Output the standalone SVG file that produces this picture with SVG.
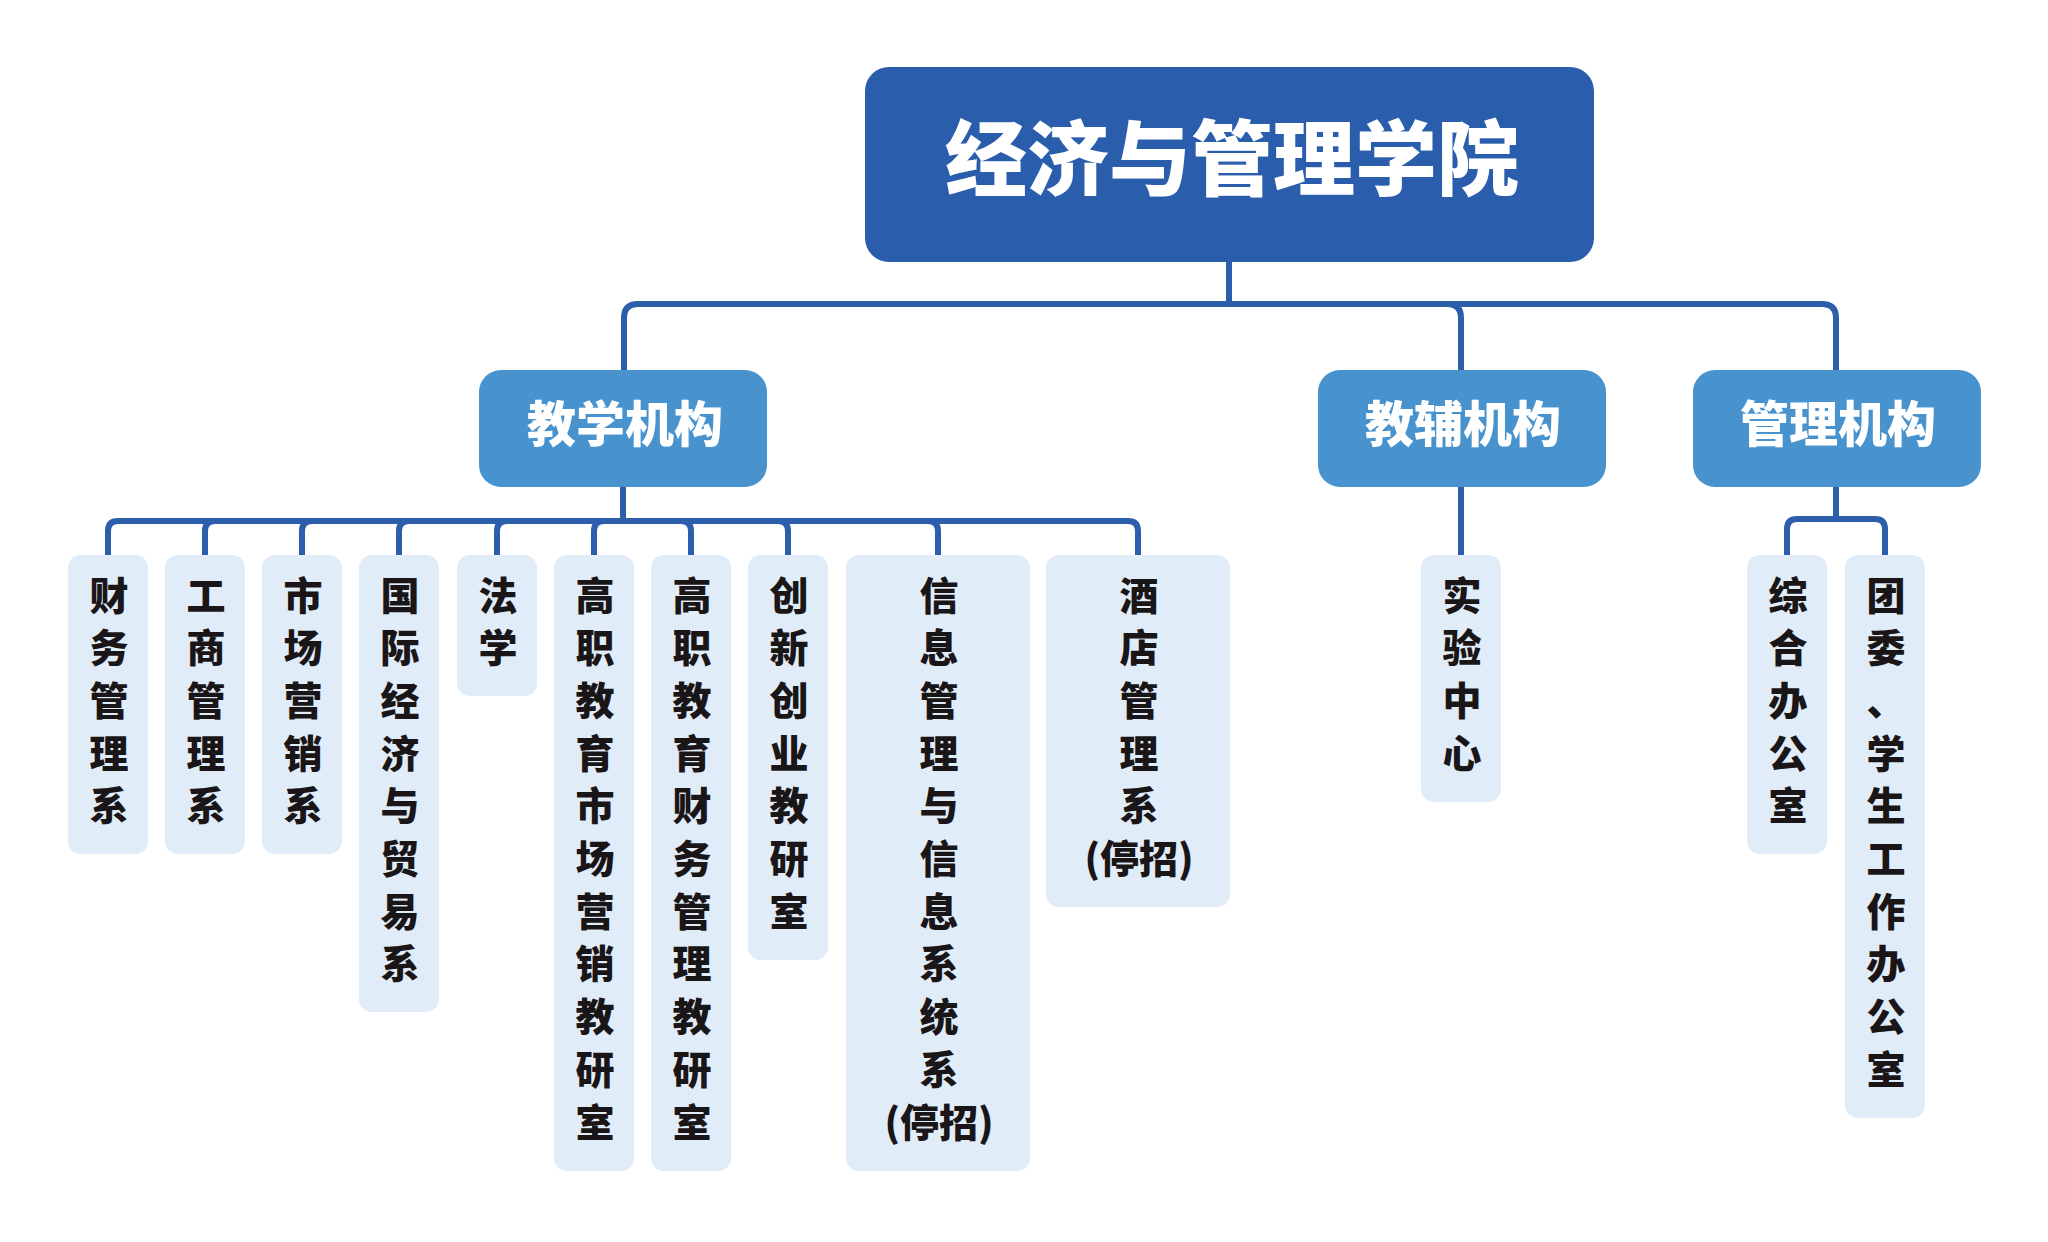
<svg xmlns="http://www.w3.org/2000/svg" width="2048" height="1242" viewBox="0 0 2048 1242">
<style>
.conn{fill:none;stroke:#2C5EAB;stroke-width:6;stroke-linejoin:round}
.root{fill:#2A5EAD}
.mid{fill:#4893CE}
.leaf{fill:#E0ECF7}
.tw{font-family:"Noto Sans CJK SC","Noto Sans",sans-serif;font-weight:900;fill:#FFFFFF;text-anchor:middle}
.tl{font-family:"Noto Sans CJK SC","Noto Sans",sans-serif;font-weight:900;fill:#1A1517;text-anchor:middle;font-size:39px}
</style>
<rect width="2048" height="1242" fill="#FFFFFF"/>
<g id="connectors">
<path class="conn" d="M1229,262 V304 H638 Q624,304 624,318 V370"/>
<path class="conn" d="M1229,262 V304 H1447 Q1461,304 1461,318 V370"/>
<path class="conn" d="M1229,262 V304 H1822 Q1836,304 1836,318 V370"/>
<path class="conn" d="M623,487 V521 H118 Q108,521 108,531 V555"/>
<path class="conn" d="M623,487 V521 H215 Q205,521 205,531 V555"/>
<path class="conn" d="M623,487 V521 H312 Q302,521 302,531 V555"/>
<path class="conn" d="M623,487 V521 H409 Q399,521 399,531 V555"/>
<path class="conn" d="M623,487 V521 H507 Q497,521 497,531 V555"/>
<path class="conn" d="M623,487 V521 H604 Q594,521 594,531 V555"/>
<path class="conn" d="M623,487 V521 H681 Q691,521 691,531 V555"/>
<path class="conn" d="M623,487 V521 H778 Q788,521 788,531 V555"/>
<path class="conn" d="M623,487 V521 H928 Q938,521 938,531 V555"/>
<path class="conn" d="M623,487 V521 H1128 Q1138,521 1138,531 V555"/>
<path class="conn" d="M1461,487 V555"/>
<path class="conn" d="M1836,487 V519 H1797 Q1787,519 1787,529 V555"/>
<path class="conn" d="M1836,487 V519 H1875 Q1885,519 1885,529 V555"/>
</g>
<g id="root">
<rect class="root" x="865" y="67" width="729" height="195" rx="24"/>
<text class="tw" x="1232" y="189" font-size="82">经济与管理学院</text>
</g>
<g id="teaching">
<rect class="mid" x="479" y="370" width="288" height="117" rx="22"/>
<text class="tw" x="625" y="442" font-size="49">教学机构</text>
</g>
<g id="support">
<rect class="mid" x="1318" y="370" width="288" height="117" rx="22"/>
<text class="tw" x="1463" y="442" font-size="49">教辅机构</text>
</g>
<g id="admin">
<rect class="mid" x="1693" y="370" width="288" height="117" rx="22"/>
<text class="tw" x="1838" y="442" font-size="49">管理机构</text>
</g>
<g id="leaf1">
<rect class="leaf" x="68" y="555" width="80" height="299" rx="13"/>
<text class="tl" x="109" y="609.5"><tspan x="109">财</tspan><tspan x="109" dy="52.7">务</tspan><tspan x="109" dy="52.7">管</tspan><tspan x="109" dy="52.7">理</tspan><tspan x="109" dy="52.7">系</tspan></text>
</g>
<g id="leaf2">
<rect class="leaf" x="165" y="555" width="80" height="299" rx="13"/>
<text class="tl" x="206" y="609.5"><tspan x="206">工</tspan><tspan x="206" dy="52.7">商</tspan><tspan x="206" dy="52.7">管</tspan><tspan x="206" dy="52.7">理</tspan><tspan x="206" dy="52.7">系</tspan></text>
</g>
<g id="leaf3">
<rect class="leaf" x="262" y="555" width="80" height="299" rx="13"/>
<text class="tl" x="303" y="609.5"><tspan x="303">市</tspan><tspan x="303" dy="52.7">场</tspan><tspan x="303" dy="52.7">营</tspan><tspan x="303" dy="52.7">销</tspan><tspan x="303" dy="52.7">系</tspan></text>
</g>
<g id="leaf4">
<rect class="leaf" x="359" y="555" width="80" height="457" rx="13"/>
<text class="tl" x="400" y="609.5"><tspan x="400">国</tspan><tspan x="400" dy="52.7">际</tspan><tspan x="400" dy="52.7">经</tspan><tspan x="400" dy="52.7">济</tspan><tspan x="400" dy="52.7">与</tspan><tspan x="400" dy="52.7">贸</tspan><tspan x="400" dy="52.7">易</tspan><tspan x="400" dy="52.7">系</tspan></text>
</g>
<g id="leaf5">
<rect class="leaf" x="457" y="555" width="80" height="141" rx="13"/>
<text class="tl" x="498" y="609.5"><tspan x="498">法</tspan><tspan x="498" dy="52.7">学</tspan></text>
</g>
<g id="leaf6">
<rect class="leaf" x="554" y="555" width="80" height="616" rx="13"/>
<text class="tl" x="595" y="609.5"><tspan x="595">高</tspan><tspan x="595" dy="52.7">职</tspan><tspan x="595" dy="52.7">教</tspan><tspan x="595" dy="52.7">育</tspan><tspan x="595" dy="52.7">市</tspan><tspan x="595" dy="52.7">场</tspan><tspan x="595" dy="52.7">营</tspan><tspan x="595" dy="52.7">销</tspan><tspan x="595" dy="52.7">教</tspan><tspan x="595" dy="52.7">研</tspan><tspan x="595" dy="52.7">室</tspan></text>
</g>
<g id="leaf7">
<rect class="leaf" x="651" y="555" width="80" height="616" rx="13"/>
<text class="tl" x="692" y="609.5"><tspan x="692">高</tspan><tspan x="692" dy="52.7">职</tspan><tspan x="692" dy="52.7">教</tspan><tspan x="692" dy="52.7">育</tspan><tspan x="692" dy="52.7">财</tspan><tspan x="692" dy="52.7">务</tspan><tspan x="692" dy="52.7">管</tspan><tspan x="692" dy="52.7">理</tspan><tspan x="692" dy="52.7">教</tspan><tspan x="692" dy="52.7">研</tspan><tspan x="692" dy="52.7">室</tspan></text>
</g>
<g id="leaf8">
<rect class="leaf" x="748" y="555" width="80" height="405" rx="13"/>
<text class="tl" x="789" y="609.5"><tspan x="789">创</tspan><tspan x="789" dy="52.7">新</tspan><tspan x="789" dy="52.7">创</tspan><tspan x="789" dy="52.7">业</tspan><tspan x="789" dy="52.7">教</tspan><tspan x="789" dy="52.7">研</tspan><tspan x="789" dy="52.7">室</tspan></text>
</g>
<g id="leaf9">
<rect class="leaf" x="846" y="555" width="184" height="616" rx="13"/>
<text class="tl" x="939" y="609.5"><tspan x="939">信</tspan><tspan x="939" dy="52.7">息</tspan><tspan x="939" dy="52.7">管</tspan><tspan x="939" dy="52.7">理</tspan><tspan x="939" dy="52.7">与</tspan><tspan x="939" dy="52.7">信</tspan><tspan x="939" dy="52.7">息</tspan><tspan x="939" dy="52.7">系</tspan><tspan x="939" dy="52.7">统</tspan><tspan x="939" dy="52.7">系</tspan><tspan x="939" dy="52.7">(停招)</tspan></text>
</g>
<g id="leaf10">
<rect class="leaf" x="1046" y="555" width="184" height="352" rx="13"/>
<text class="tl" x="1139" y="609.5"><tspan x="1139">酒</tspan><tspan x="1139" dy="52.7">店</tspan><tspan x="1139" dy="52.7">管</tspan><tspan x="1139" dy="52.7">理</tspan><tspan x="1139" dy="52.7">系</tspan><tspan x="1139" dy="52.7">(停招)</tspan></text>
</g>
<g id="leaf11">
<rect class="leaf" x="1421" y="555" width="80" height="247" rx="13"/>
<text class="tl" x="1462" y="609.5"><tspan x="1462">实</tspan><tspan x="1462" dy="52.7">验</tspan><tspan x="1462" dy="52.7">中</tspan><tspan x="1462" dy="52.7">心</tspan></text>
</g>
<g id="leaf12">
<rect class="leaf" x="1747" y="555" width="80" height="299" rx="13"/>
<text class="tl" x="1788" y="609.5"><tspan x="1788">综</tspan><tspan x="1788" dy="52.7">合</tspan><tspan x="1788" dy="52.7">办</tspan><tspan x="1788" dy="52.7">公</tspan><tspan x="1788" dy="52.7">室</tspan></text>
</g>
<g id="leaf13">
<rect class="leaf" x="1845" y="555" width="80" height="563" rx="13"/>
<text class="tl" x="1886" y="609.5"><tspan x="1886">团</tspan><tspan x="1886" dy="52.7">委</tspan><tspan x="1886" dy="52.7">、</tspan><tspan x="1886" dy="52.7">学</tspan><tspan x="1886" dy="52.7">生</tspan><tspan x="1886" dy="52.7">工</tspan><tspan x="1886" dy="52.7">作</tspan><tspan x="1886" dy="52.7">办</tspan><tspan x="1886" dy="52.7">公</tspan><tspan x="1886" dy="52.7">室</tspan></text>
</g>
</svg>
